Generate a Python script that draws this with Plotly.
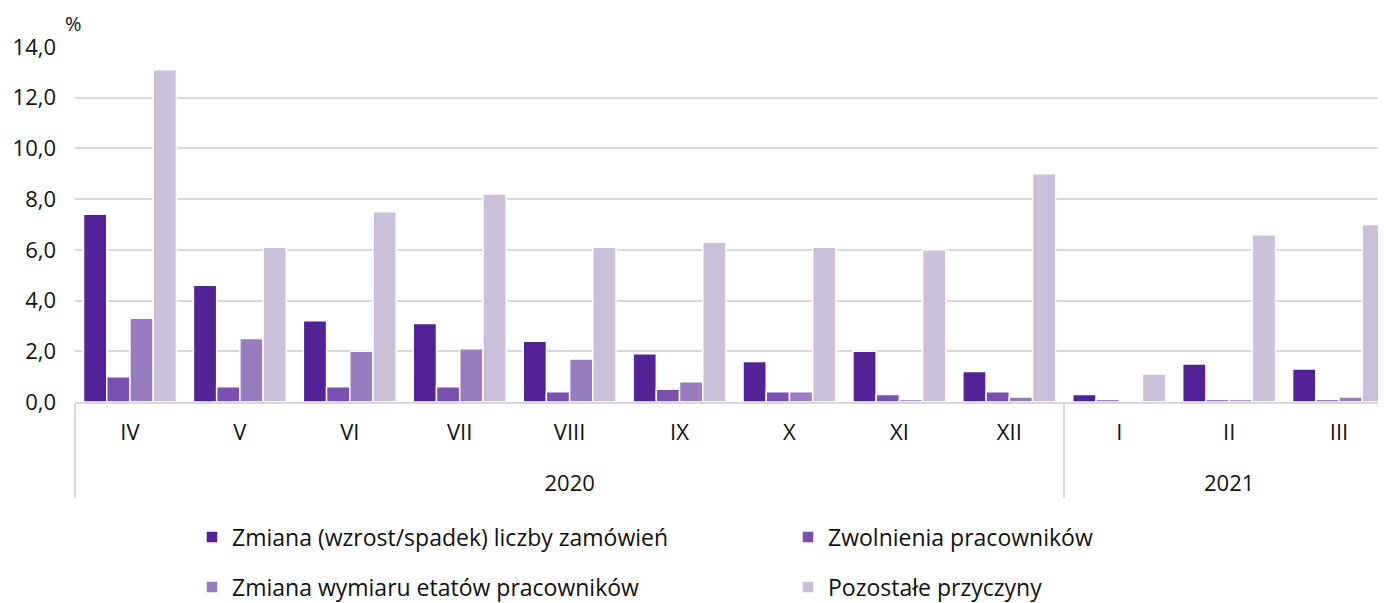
import plotly.graph_objects as go

months = ["IV", "V", "VI", "VII", "VIII", "IX", "X", "XI", "XII", "I", "II", "III"]
years = ["2020"] * 9 + ["2021"] * 3

zmiana_zamowien = [7.4, 4.6, 3.2, 3.1, 2.4, 1.9, 1.6, 2.0, 1.2, 0.3, 1.5, 1.3]
zwolnienia = [1.0, 0.6, 0.6, 0.6, 0.4, 0.5, 0.4, 0.3, 0.4, 0.1, 0.1, 0.1]
zmiana_etatow = [3.3, 2.5, 2.0, 2.1, 1.7, 0.8, 0.4, 0.1, 0.2, 0.0, 0.1, 0.2]
pozostale = [13.1, 6.1, 7.5, 8.2, 6.1, 6.3, 6.1, 6.0, 9.0, 1.1, 6.6, 7.0]

series_names = [
    "Zmiana (wzrost/spadek) liczby zamówień",
    "Zwolnienia pracowników",
    "Zmiana wymiaru etatów pracowników",
    "Pozostałe przyczyny",
]
series_values = [zmiana_zamowien, zwolnienia, zmiana_etatow, pozostale]
colors = ["#522296", "#7a4fb0", "#977cc0", "#cac0da"]
legend_ids = ["legend", "legend2", "legend3", "legend4"]

FONT = "Open Sans"
TXT = "#111111"

# month labels get an extra blank line so the year row sits lower
month_labels = [m + "<br> " for m in months]

fig = go.Figure()
for name, vals, col, leg in zip(series_names, series_values, colors, legend_ids):
    fig.add_trace(go.Bar(
        x=[years, month_labels], y=vals, name=name,
        marker=dict(color=col, line=dict(color="white", width=1.5)),
        legend=leg, showlegend=True,
    ))

# the page body has an 8px margin; the plot runs past the right edge like the original
W, H = 1386, 595
legend_common = dict(
    orientation="h", xref="container", yref="container",
    xanchor="left", yanchor="middle",
    font=dict(family=FONT, size=23, color=TXT),
    itemwidth=30, bgcolor="rgba(0,0,0,0)",
)
col1, col2 = 184, 780
row1, row2 = 529, 579

fig.update_layout(
    width=W, height=H, showlegend=True,
    margin=dict(l=67, r=0, t=39, b=201),
    paper_bgcolor="white", plot_bgcolor="white",
    font=dict(family=FONT, size=22, color=TXT),
    separators=", ",
    barmode="group", bargap=0.155, bargroupgap=0,
    legend=dict(x=col1 / W, y=1 - row1 / H, **legend_common),
    legend2=dict(x=col2 / W, y=1 - row1 / H, **legend_common),
    legend3=dict(x=col1 / W, y=1 - row2 / H, **legend_common),
    legend4=dict(x=col2 / W, y=1 - row2 / H, **legend_common),
    xaxis=dict(
        type="multicategory", showdividers=True, dividercolor="#d9d9d9", dividerwidth=1.5,
        showline=True, linecolor="#d9d9d9", linewidth=2,
        ticks="", ticklabelstandoff=10, showgrid=False,
        tickfont=dict(family=FONT, size=22, color=TXT),
    ),
    yaxis=dict(
        range=[0, 14], dtick=2, tickformat=".1f", showgrid=True, gridcolor="#d9d9d9",
        gridwidth=1.5, zeroline=False, showline=False, ticks="", ticklabelstandoff=18,
        tickfont=dict(family=FONT, size=22, color=TXT),
    ),
    annotations=[dict(
        text="%", xref="paper", yref="paper", x=0, y=1, xanchor="center", yanchor="bottom",
        yshift=8, xshift=-2, showarrow=False, font=dict(family=FONT, size=20, color=TXT),
    )],
)

fig.write_html("out.html")
